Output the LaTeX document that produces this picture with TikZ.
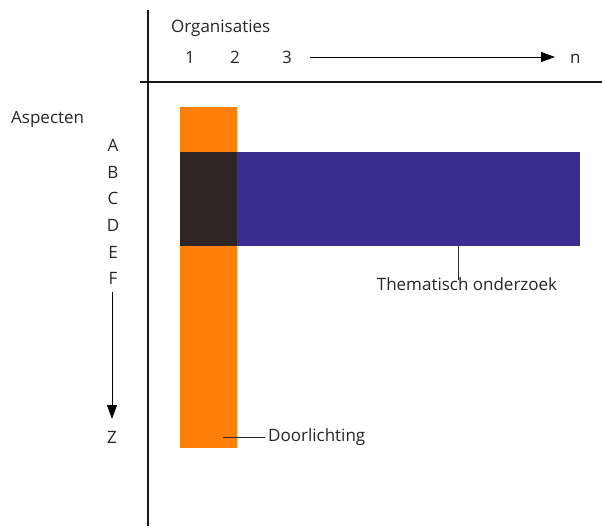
\documentclass[tikz,border=0pt]{standalone}
\usepackage{fontspec}
\setmainfont{Open Sans}
\usetikzlibrary{arrows.meta}
\definecolor{oranj}{HTML}{FF7F0A}
\definecolor{indigo}{HTML}{3B2D8F}
\definecolor{donker}{HTML}{2F2424}
\begin{document}
\begin{tikzpicture}[x=1pt,y=-1pt,
  lbl/.style={font=\fontsize{17}{19}\selectfont, inner sep=0pt, text=black!85},
  axis/.style={line width=1.5pt, black!90},
  lead/.style={line width=1pt, black!85},
  arr/.style={line width=0.9pt, -{Triangle[length=14pt,width=10pt]}}]
\useasboundingbox (0,0) rectangle (602,532);
% bars
\fill[oranj] (180,107) rectangle (237,448);
\fill[indigo] (237,152) rectangle (580,246);
\fill[donker] (180,152) rectangle (237,246);
% axes
\draw[axis] (148,10) -- (148,526);
\draw[axis] (140,82) -- (602,82);
% header
\node[lbl, anchor=west] (org) at (171,28) {Organisaties};
\node[lbl] (o1) at (190,57) {1};
\node[lbl] (o2) at (235,57) {2};
\node[lbl] (o3) at (287,57) {3};
\node[lbl, anchor=west] (on) at (570,59) {n};
\coordinate (hs) at (310,57);
\coordinate (he) at (555,57);
\draw[arr] (hs) -- (he);
% aspects
\node[lbl, anchor=west] (asp) at (11,119) {Aspecten};
\node[lbl] (a) at (113,145) {A};
\node[lbl] (b) at (113,172) {B};
\node[lbl] (c) at (113,198) {C};
\node[lbl] (d) at (113,225) {D};
\node[lbl] (e) at (113,252) {E};
\node[lbl] (f) at (113,278) {F};
\node[lbl] (z) at (112,437) {Z};
\coordinate (vs) at (112,292);
\coordinate (ve) at (112,419);
\draw[arr] (vs) -- (ve);
% labels
\node[lbl] (them) at (467,284) {Thematisch onderzoek};
\coordinate (tl) at (458,246);
\draw[lead] (tl) -- ([yshift=-3pt]them.north -| tl);
\node[lbl, anchor=west] (door) at (268,437) {Doorlichting};
\coordinate (dl) at (223,437);
\draw[lead] (dl) -- ([xshift=-3pt]door.west);
\end{tikzpicture}
\end{document}
